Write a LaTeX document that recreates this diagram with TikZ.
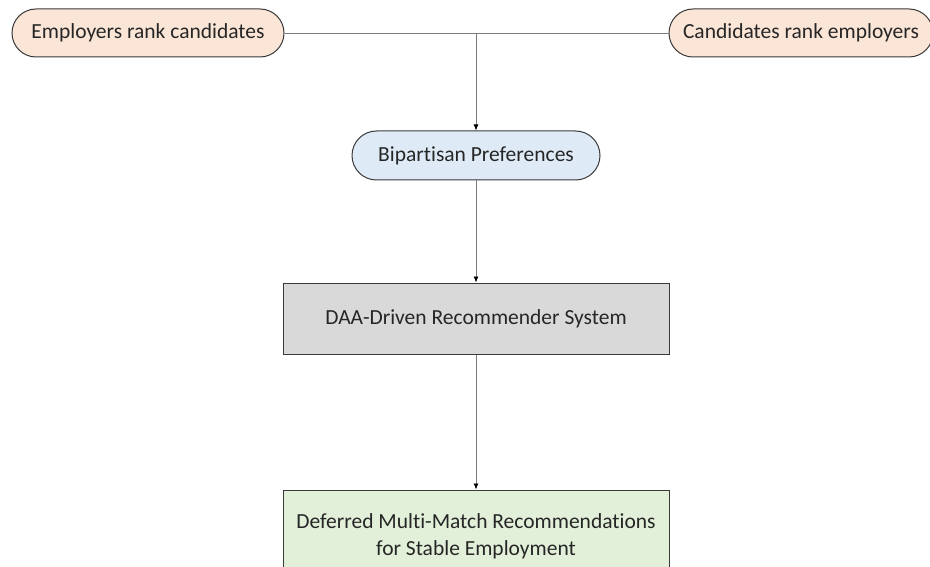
\documentclass[tikz,border=0pt]{standalone}
\usepackage{fontspec}
\setmainfont{Carlito}[Ligatures=NoCommon]
\usetikzlibrary{arrows.meta,shapes.misc}
\definecolor{peach}{HTML}{FBE5D6}
\definecolor{lightblue}{HTML}{DEEBF7}
\definecolor{lightgray}{HTML}{D9D9D9}
\definecolor{lightgreen}{HTML}{E2F0D9}
\definecolor{edge}{HTML}{3A3A3A}
\definecolor{wire}{HTML}{7A7A7A}
\tikzset{
  base/.style={draw=edge, line width=1pt, text=black!85, font=\fontsize{21.5}{27}\selectfont, inner sep=0pt, align=center},
  pill/.style={base, rounded rectangle},
  stepbox/.style={base, rectangle},
  link/.style={draw=wire, line width=0.8pt, -{Latex[length=6pt,width=5pt,color=black]}},
  wireline/.style={draw=wire, line width=0.8pt},
}
\begin{document}
\begin{tikzpicture}[x=1pt,y=-1pt]
  \useasboundingbox (0,0) rectangle (930,567);
  \clip (0,0) rectangle (930,567);
  % sources of preferences
  \node[pill, fill=peach, minimum width=272pt, minimum height=48pt] (emp) at (148,33) {Employers rank candidates};
  \node[pill, fill=peach, minimum width=264pt, minimum height=48pt] (cand) at (801,33) {Candidates rank employers};
  % merged preferences
  \node[pill, fill=lightblue, minimum width=248pt, minimum height=49pt] (bip) at (476,155.5) {Bipartisan Preferences};
  % recommender
  \node[stepbox, fill=lightgray, minimum width=386pt, minimum height=71pt] (daa) at (476,318.5) {DAA-Driven Recommender System};
  % output
  \node[stepbox, fill=lightgreen, minimum width=386pt, minimum height=92pt] (out) at (476,536) {Deferred Multi-Match Recommendations\\for Stable Employment};
  % connectors
  \coordinate (join) at (bip.north |- emp.east);
  \draw[wireline] (emp.east) -- (cand.west);
  \draw[link] (join) -- (bip.north);
  \draw[link] (bip.south) -- (daa.north);
  \draw[link] (daa.south) -- (out.north);
\end{tikzpicture}
\end{document}
